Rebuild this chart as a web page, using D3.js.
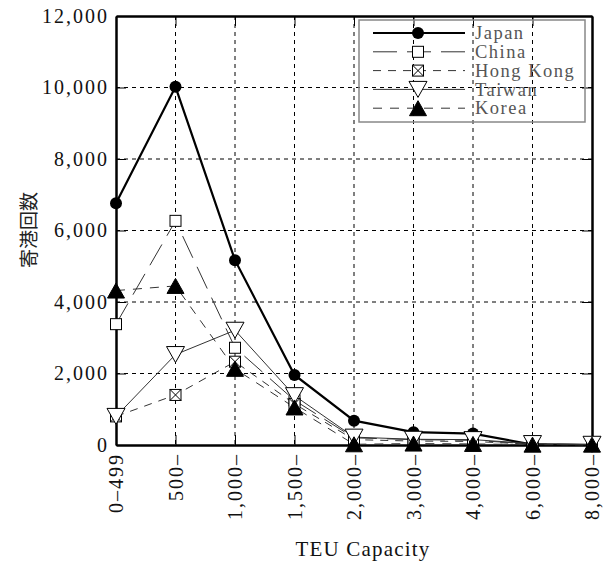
<!DOCTYPE html>
<html>
<head>
<meta charset="utf-8">
<script src="https://cdn.jsdelivr.net/npm/d3@7"></script>
<style>
  html, body { margin: 0; padding: 0; background: #fff; }
  svg { display: block; }
</style>
</head>
<body>
<svg id="chart" width="603" height="561"></svg>
<script>
// Port calls by vessel size class (TEU)
const categories = ["0\u2013499", "500\u2013", "1,000\u2013", "1,500\u2013", "2,000\u2013", "3,000\u2013", "4,000\u2013", "6,000\u2013", "8,000\u2013"];
const japan    = [6760, 10020, 5170, 1960, 680, 360, 320, 10, 0];
const china    = [3380, 6270, 2720, 1250, 200, 150, 130, 30, 10];
const hongKong = [800, 1400, 2330, 1150, 150, 110, 100, 20, 0];
const taiwan   = [800, 2530, 3210, 1380, 220, 160, 150, 40, 20];
const korea    = [4320, 4450, 2130, 1050, 20, 40, 30, 10, 10];
const yTicks   = [0, 2000, 4000, 6000, 8000, 10000, 12000];
const seriesNames = ["Japan", "China", "Hong Kong", "Taiwan", "Korea"];
const seriesValues = [japan, china, hongKong, taiwan, korea];
const yTitle = "寄港回数";
const xTitle = "TEU Capacity";

const plot = { left: 116, right: 592, top: 16, bottom: 445 };
const serif = "'Liberation Serif', 'DejaVu Serif', serif";

const svg = d3.select("#chart");

const x = d3.scalePoint().domain(categories).range([plot.left, plot.right]).padding(0);
const y = d3.scaleLinear().domain([0, 12000]).range([plot.bottom, plot.top]);

// per-series styling
const styles = [
  { width: 2.2, dash: null,    color: "#000", marker: "circle" },
  { width: 1,   dash: "24,10", color: "#333", marker: "square" },
  { width: 1,   dash: "8,7",   color: "#333", marker: "xsquare" },
  { width: 1,   dash: null,    color: "#333", marker: "down" },
  { width: 1,   dash: "9,8",   color: "#333", marker: "up" }
];

// dashed grid
const grid = svg.append("g").attr("stroke", "#000").attr("stroke-width", 1).attr("stroke-dasharray", "4,4");
grid.selectAll("line.h").data(yTicks.slice(1, -1)).join("line")
  .attr("x1", plot.left).attr("x2", plot.right)
  .attr("y1", d => y(d)).attr("y2", d => y(d));
grid.selectAll("line.v").data(categories.slice(1, -1)).join("line")
  .attr("x1", d => x(d)).attr("x2", d => x(d))
  .attr("y1", plot.top).attr("y2", plot.bottom);

// axes with inward ticks on all four sides
function styleAxis(g) {
  g.select(".domain").attr("stroke", "#000").attr("stroke-width", 2.5);
  g.selectAll(".tick line").attr("stroke", "#000").attr("stroke-width", 1);
  g.selectAll(".tick text").attr("fill", "#111").attr("font-family", serif);
}

svg.append("g").attr("transform", `translate(${plot.left},0)`)
  .call(d3.axisLeft(y).tickValues(yTicks).tickSize(-10).tickSizeOuter(0).tickPadding(7).tickFormat(d3.format(",")))
  .call(styleAxis)
  .call(g => g.selectAll(".tick text").attr("font-size", 20).attr("letter-spacing", 2));

svg.append("g").attr("transform", `translate(${plot.right},0)`)
  .call(d3.axisRight(y).tickValues(yTicks).tickSize(-10).tickSizeOuter(0).tickFormat(""))
  .call(styleAxis);

svg.append("g").attr("transform", `translate(0,${plot.top})`)
  .call(d3.axisTop(x).tickSize(-10).tickSizeOuter(0).tickFormat(""))
  .call(styleAxis);

svg.append("g").attr("transform", `translate(0,${plot.bottom})`)
  .call(d3.axisBottom(x).tickSize(-10).tickSizeOuter(0))
  .call(styleAxis)
  .call(g => g.selectAll(".tick text")
    .attr("font-size", 20)
    .attr("letter-spacing", 2)
    .attr("text-anchor", "end")
    .attr("transform", "rotate(-90)")
    .attr("x", -8).attr("y", 0).attr("dy", "0.34em"));

// axis titles
svg.append("text")
  .attr("transform", `translate(29,230) rotate(-90)`)
  .attr("text-anchor", "middle").attr("dy", "0.35em")
  .attr("font-family", "'Noto Sans CJK JP', sans-serif").attr("font-size", 19)
  .attr("fill", "#222").text(yTitle);

svg.append("text")
  .attr("x", 363).attr("y", 556)
  .attr("text-anchor", "middle")
  .attr("font-family", serif).attr("font-size", 21).attr("letter-spacing", 1.2)
  .attr("fill", "#111").text(xTitle);

// marker drawing
function drawMarker(g, type, cx, cy) {
  if (type === "circle") {
    g.append("circle").attr("cx", cx).attr("cy", cy).attr("r", 6).attr("fill", "#000");
  } else if (type === "square" || type === "xsquare") {
    const s = 11;
    g.append("rect").attr("x", cx - s / 2).attr("y", cy - s / 2).attr("width", s).attr("height", s)
      .attr("fill", "#fff").attr("stroke", "#000").attr("stroke-width", 1);
    if (type === "xsquare") {
      g.append("path")
        .attr("d", `M${cx - s / 2},${cy - s / 2}L${cx + s / 2},${cy + s / 2}M${cx + s / 2},${cy - s / 2}L${cx - s / 2},${cy + s / 2}`)
        .attr("stroke", "#000").attr("stroke-width", 1).attr("fill", "none");
    }
  } else if (type === "down") {
    const w = 18, h = 16;
    g.append("path")
      .attr("d", `M${cx - w / 2},${cy - h / 2}L${cx + w / 2},${cy - h / 2}L${cx},${cy + h / 2}Z`)
      .attr("fill", "#fff").attr("stroke", "#000").attr("stroke-width", 1);
  } else if (type === "up") {
    const w = 17, h = 15;
    g.append("path")
      .attr("d", `M${cx},${cy - h / 2}L${cx + w / 2},${cy + h / 2}L${cx - w / 2},${cy + h / 2}Z`)
      .attr("fill", "#000").attr("stroke", "#000").attr("stroke-width", 1);
  }
}

// series lines then markers
const line = d3.line().x((d, i) => x(categories[i])).y(d => y(d));
const lines = svg.append("g").attr("fill", "none");
seriesValues.forEach((vals, k) => {
  const st = styles[k];
  lines.append("path").datum(vals)
    .attr("d", line)
    .attr("stroke", st.color).attr("stroke-width", st.width)
    .attr("stroke-dasharray", st.dash);
});
const markers = svg.append("g");
seriesValues.forEach((vals, k) => {
  vals.forEach((v, i) => drawMarker(markers, styles[k].marker, x(categories[i]), y(v)));
});

// legend
const legend = svg.append("g");
legend.append("rect").attr("x", 359).attr("y", 20).attr("width", 226).attr("height", 102)
  .attr("fill", "none").attr("stroke", "#888").attr("stroke-width", 1.5);
seriesNames.forEach((name, k) => {
  const ly = 33 + k * 18.8;
  const st = styles[k];
  legend.append("line").attr("x1", 373).attr("x2", 465).attr("y1", ly).attr("y2", ly)
    .attr("stroke", st.color).attr("stroke-width", st.width).attr("stroke-dasharray", st.dash);
  drawMarker(legend, st.marker, 418, ly);
  legend.append("text").attr("x", 475).attr("y", ly).attr("dy", "0.34em")
    .attr("font-family", serif).attr("font-size", 18.5).attr("letter-spacing", 1.5)
    .attr("fill", "#555").text(name);
});
</script>
</body>
</html>
